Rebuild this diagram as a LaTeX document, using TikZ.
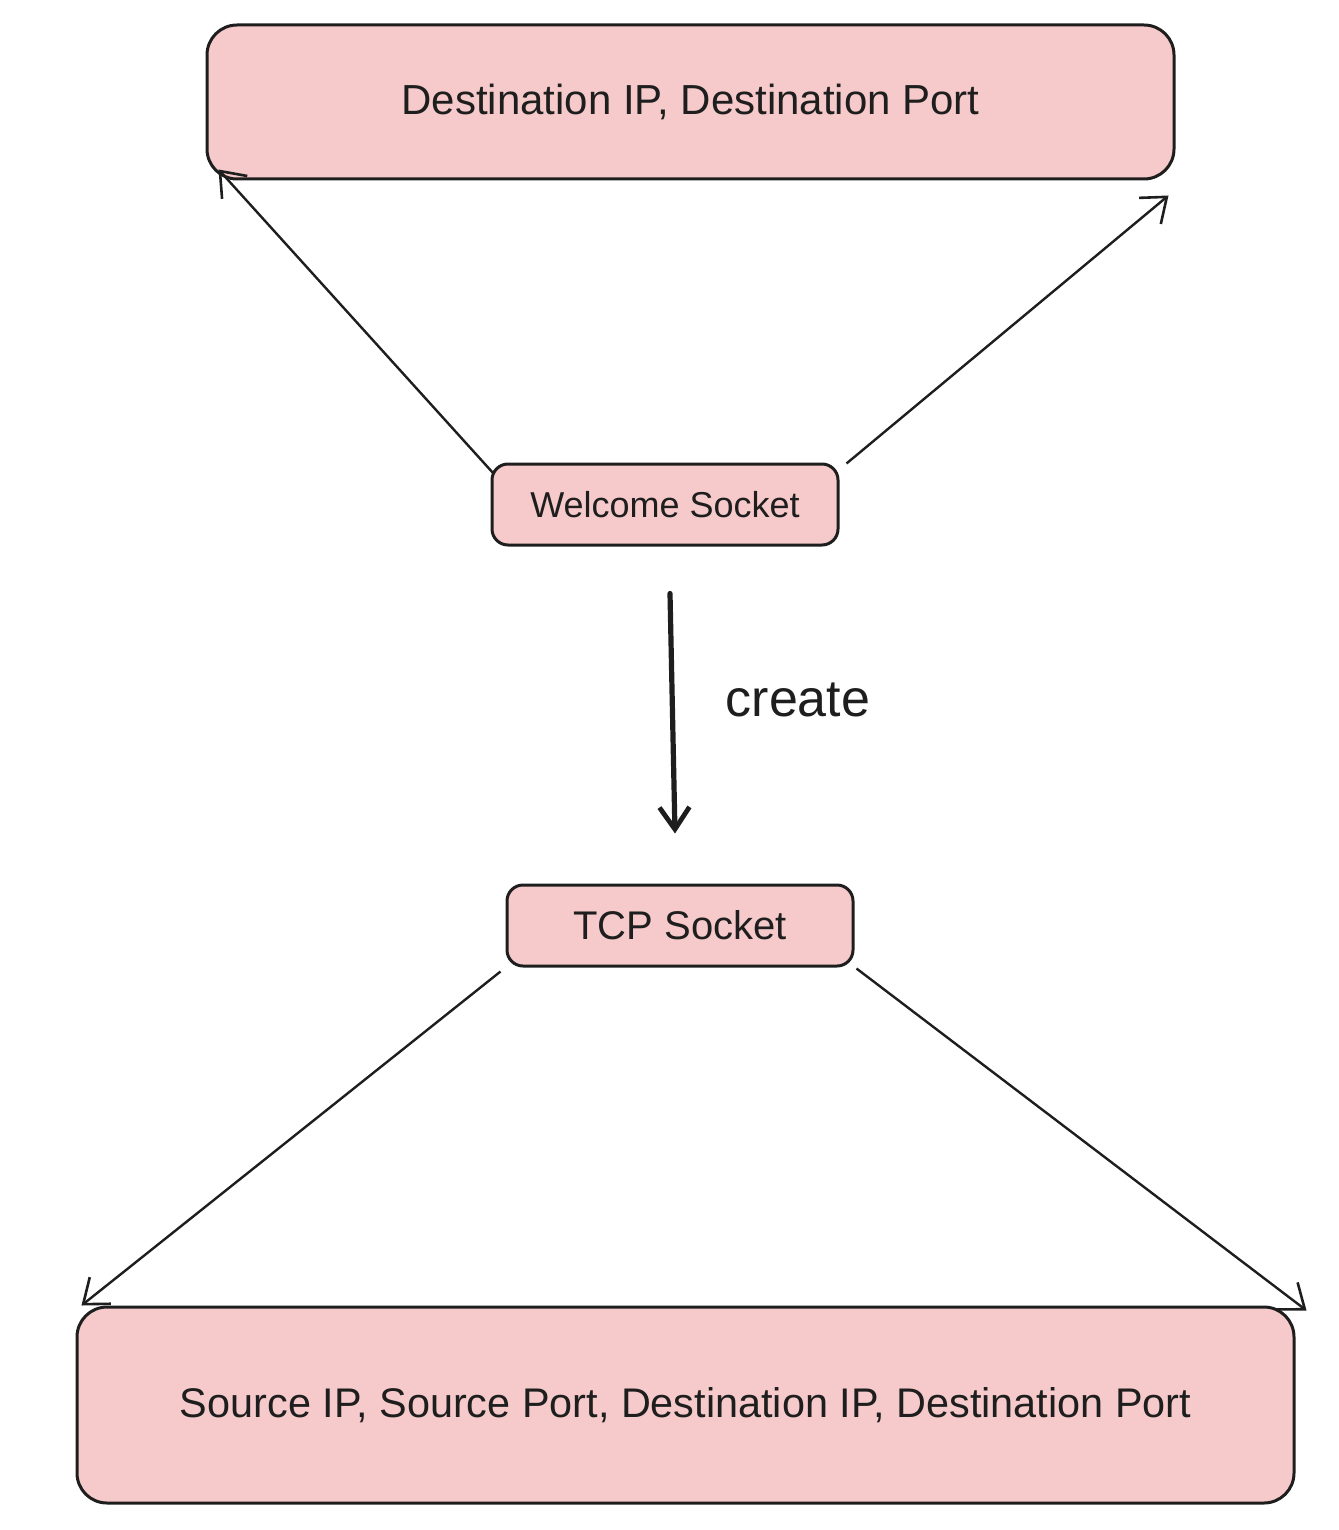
\documentclass[tikz,border=0pt]{standalone}
\usepackage{fontspec}
\setmainfont{Liberation Sans}
\usetikzlibrary{arrows.meta,calc}
\definecolor{boxfill}{HTML}{F6CACA}
\definecolor{ink}{HTML}{1E1E1E}
\begin{document}
\begin{tikzpicture}[x=0.5pt,y=-0.5pt,
  box/.style={draw=ink,fill=boxfill,line width=1.5pt,rounded corners=#1,inner sep=0pt,text=ink},
  box/.default=8pt,
  thinarrow/.style={draw=ink,line width=1.2pt,-{Straight Barb[length=11pt,width=17pt,line width=1.3pt]}},
  thickarrow/.style={draw=ink,line width=2.6pt,line cap=round,-{Straight Barb[length=11pt,width=15pt,line width=2.4pt]}}]
\useasboundingbox (0,0) rectangle (1338,1530);
\node[box=15pt,minimum width=483.5pt,minimum height=77pt,font=\fontsize{21}{25}\selectfont] (top) at (690.5,102) {Destination IP, Destination Port};
\node[box,minimum width=173pt,minimum height=40.5pt,font=\fontsize{18}{22}\selectfont] (welcome) at (665,504.5) {Welcome Socket};
\node[box,minimum width=173pt,minimum height=40.5pt,font=\fontsize{20}{24}\selectfont] (tcp) at (680,925.5) {TCP Socket};
\node[box=15pt,minimum width=608.5pt,minimum height=98pt,font=\fontsize{20.7}{25}\selectfont] (bottom) at (685.5,1405) {Source IP, Source Port, Destination IP, Destination Port};
\node[font=\fontsize{26}{30}\selectfont,text=ink] (create) at (798,700) {create};
\draw[thinarrow] ($(welcome.north west)+(3,11)$) -- ($(top.south west)+(13,-11)$);
\draw[thinarrow] ($(welcome.north east)+(7,1)$) -- ($(top.south east)+(-7,15)$);
\draw[thickarrow] ($(welcome.south)+(5,47)$) -- ($(tcp.north)+(-5,-50)$);
\draw[thinarrow] ($(tcp.south west)+(-5,4)$) -- ($(bottom.north west)+(6,0)$);
\draw[thinarrow] ($(tcp.south east)+(2,1)$) -- ($(bottom.north east)+(11,5)$);
\end{tikzpicture}
\end{document}
